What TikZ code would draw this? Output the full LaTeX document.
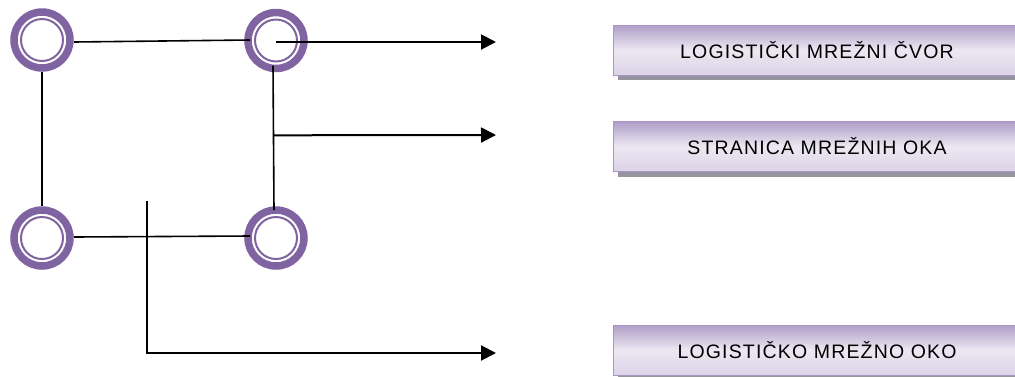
\documentclass[tikz,border=0pt]{standalone}
\usepackage{fontspec}
\setmainfont{Liberation Sans}
\newfontfamily\boxfont[LetterSpace=6]{Liberation Sans}
\usetikzlibrary{arrows.meta,calc}
\definecolor{ringpurple}{RGB}{128,100,162}
\definecolor{boxtop}{RGB}{176,158,200}
\definecolor{boxmid}{RGB}{236,232,242}
\definecolor{boxbot}{RGB}{220,211,231}
\definecolor{boxedge}{RGB}{170,150,195}
\definecolor{shadowgray}{RGB}{150,148,156}
\tikzset{
  ringnode/.style={circle, draw=ringpurple, line width=7.5pt, minimum size=56pt, inner sep=0pt, fill=white},
  innerring/.style={draw=ringpurple, line width=2pt},
  link/.style={line width=1.6pt, black},
  pointer/.style={line width=2pt, black, -{Triangle[length=15pt,width=15pt]}},
  labelbox/.style={rectangle, minimum width=407pt, minimum height=50pt, inner sep=0pt,
    top color=boxtop, bottom color=boxbot, middle color=boxmid, draw=boxedge, line width=0.8pt,
    font=\boxfont\fontsize{19.5}{23}\selectfont, text=black},
  shadowbox/.style={rectangle, minimum width=407pt, minimum height=50pt, inner sep=0pt, fill=shadowgray}
}
\begin{document}
\begin{tikzpicture}[x=1pt,y=-1pt]
\useasboundingbox (0,0) rectangle (1015,376);
\clip (0,0) rectangle (1015,376);
% nodes
\node[ringnode] (n1) at (42,40) {};
\node[ringnode] (n2) at (276,40.5) {};
\node[ringnode] (n3) at (42,238) {};
\node[ringnode] (n4) at (276,238) {};
\foreach \n in {n1,n2,n3,n4} { \draw[innerring] (\n) circle (21pt); }
% mesh sides
\draw[link] ($(n1)+(32,2)$) -- ($(n2)+(-26,-0.5)$);
\draw[link] (n1.south) -- (n3.north);
\draw[link] ($(n3)+(32,-1)$) -- ($(n4)+(-26,-2)$);
\draw[link] ($(n2)+(-3,25)$) -- coordinate[pos=0.483] (m) ($(n4)+(-2,-28)$);
% label boxes
\node[shadowbox] at (821,55) {};
\node[labelbox] (b1) at (817,50) {LOGISTIČKI MREŽNI ČVOR};
\node[shadowbox] at (821,151.5) {};
\node[labelbox] (b2) at (817,146.5) {STRANICA MREŽNIH OKA};
\node[shadowbox] at (821,355) {};
\node[labelbox] (b3) at (817,350) {LOGISTIČKO MREŽNO OKO};
% pointers
\coordinate (t1) at (496,42);
\coordinate (t2) at (496,135);
\coordinate (c3) at (147,201);
\coordinate (t3) at (496,353);
\draw[pointer] ($(n2)+(0,1.5)$) -- (t1);
\draw[pointer] ($(m)+(0.5,0)$) -- (t2);
\draw[pointer] (c3) |- (t3);
\end{tikzpicture}
\end{document}
